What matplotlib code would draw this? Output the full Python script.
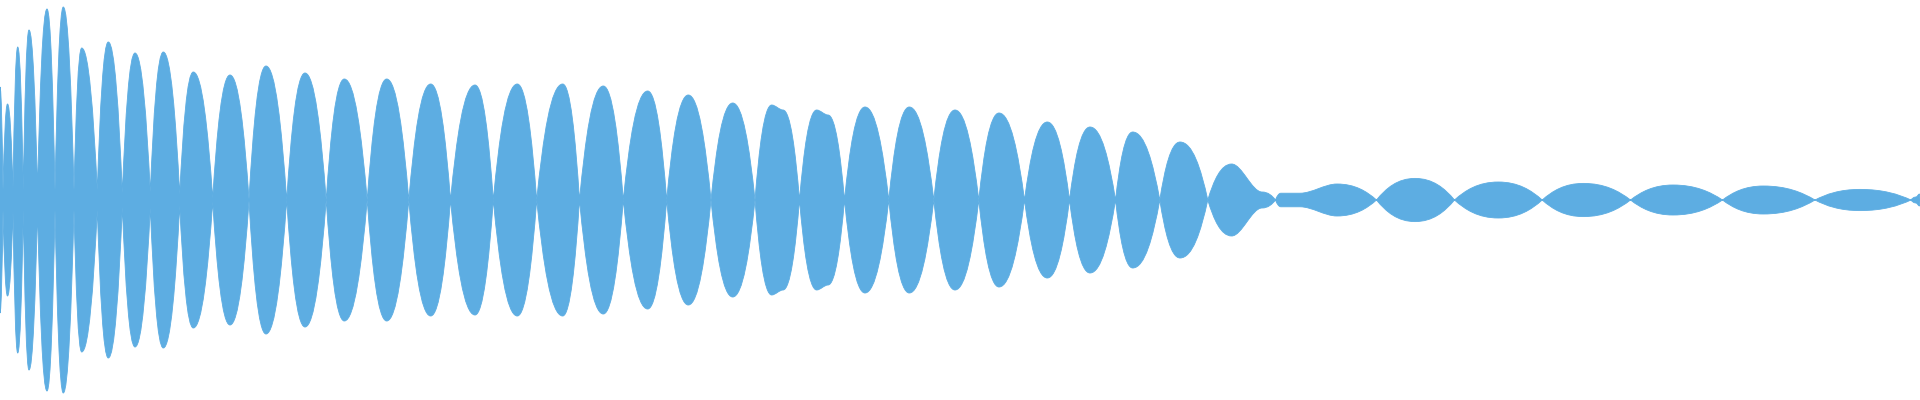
import matplotlib
matplotlib.use("Agg")
import matplotlib.pyplot as plt
from matplotlib.path import Path
from matplotlib.patches import PathPatch

# envelope key points of the waveform (position, peak level 0..1)
# valleys are the pinch points between the beats, the others are peaks / shoulders
positions = [
    0, 3, 7.5, 13, 17.7, 23.3, 29, 37.5, 47, 55, 63.3, 74, 81.7, 97.3,
    108.3, 122.3, 135, 150.3, 163.3, 179.7, 193.3, 212.7, 230, 249,
    266, 286.7, 305, 326.2, 344.3, 367.2, 386.7, 408.8, 430.7, 450.5,
    475, 493.3, 517.3, 536.7, 562.7, 579.5, 603.3, 623.3, 647.7, 666.7,
    688.3, 711, 732.7, 755, 771.7, 783, 799.5, 816.7, 828, 844.5,
    865, 888.8, 909.3, 933.8, 955, 978.8, 999, 1024.5, 1047.3, 1069.5,
    1090, 1115.5, 1132.7, 1159.8, 1180, 1207.8, 1231.7, 1262, 1275.5,
    1281, 1300, 1337, 1376.5, 1415, 1454.5, 1498.3, 1542.2, 1583.3,
    1630.5, 1673, 1722.5, 1763.3, 1815, 1860, 1911, 1916, 1919.5, 1920,
]
levels = [
    0.565, 0.05, 0.48, 0.05, 0.765, 0.05, 0.85, 0.05, 0.955, 0.05, 0.965, 0.05, 0.76, 0.05,
    0.79, 0.035, 0.735, 0.04, 0.74, 0.03, 0.64, 0.01, 0.625, 0.005,
    0.67, 0.0, 0.635, 0.0, 0.605, 0.0, 0.605, 0.0, 0.58, 0.0,
    0.575, 0.0, 0.58, 0.0, 0.58, 0.0, 0.57, 0.0, 0.545, 0.0,
    0.525, 0.0, 0.485, 0.0, 0.475, 0.45, 0.0, 0.45, 0.425, 0.0,
    0.465, 0.0, 0.465, 0.0, 0.45, 0.0, 0.435, 0.0, 0.39, 0.0,
    0.365, 0.0, 0.34, 0.0, 0.29, 0.0, 0.18, 0.04, 0.0,
    0.034, 0.034, 0.08, 0.0, 0.108, 0.0, 0.09, 0.0, 0.083,
    0.0, 0.075, 0.0, 0.07, 0.0, 0.053, 0.0, 0.015, 0.03, 0.0,
]

wave_color = "#5dade2"


def is_valley(i):
    if levels[i] == 0:
        return True
    if i == 0 or i == len(levels) - 1:
        return False
    return levels[i] < levels[i - 1] and levels[i] < levels[i + 1]


# top edge as cubic bezier segments between the key points
verts = [(positions[0], levels[0])]
for i in range(len(positions) - 1):
    x0, y0 = positions[i], levels[i]
    x1, y1 = positions[i + 1], levels[i + 1]
    dx = x1 - x0
    v0, v1 = is_valley(i), is_valley(i + 1)
    if v0:
        c1 = (x0 + 0.25 * dx, y0 + 0.55 * (y1 - y0))
    elif v1:
        c1 = (x0 + 0.45 * dx, y0)
    else:
        c1 = (x0 + dx / 3, y0)
    if v1:
        c2 = (x1 - 0.25 * dx, y1 + 0.55 * (y0 - y1))
    elif v0:
        c2 = (x1 - 0.45 * dx, y1)
    else:
        c2 = (x1 - dx / 3, y1)
    verts += [c1, c2, (x1, y1)]

n = len(verts) - 1
bottom = [(x, -y) for x, y in reversed(verts)]
all_verts = verts + bottom + [verts[0]]
codes = ([Path.MOVETO] + [Path.CURVE4] * n + [Path.LINETO] + [Path.CURVE4] * n
         + [Path.CLOSEPOLY])

fig = plt.figure(figsize=(19.2, 4), dpi=100)
ax = fig.add_axes([0, 0, 1, 1])
ax.add_patch(PathPatch(Path(all_verts, codes), facecolor=wave_color,
                       edgecolor=wave_color, linewidth=0.6))
ax.set_xlim(0, 1920)
ax.set_ylim(-1, 1)
ax.axis("off")

fig.savefig("out.png", dpi=100, facecolor="white")
